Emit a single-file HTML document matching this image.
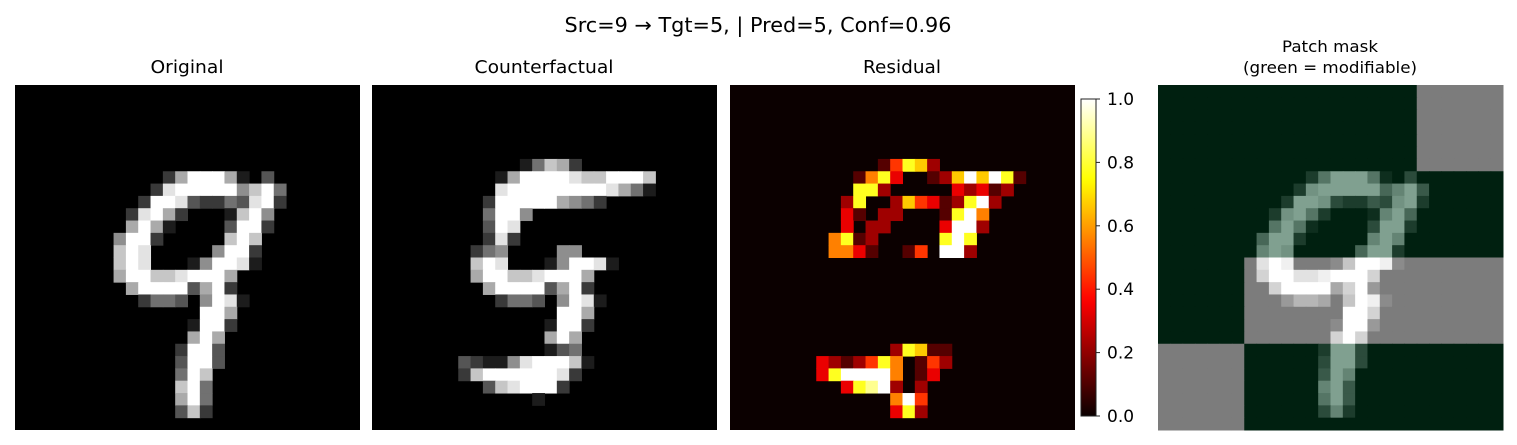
<!DOCTYPE html>
<html><head><meta charset="utf-8">
<style>
html,body{margin:0;padding:0;background:#fff;}
svg{display:block;font-family:"DejaVu Sans","Liberation Sans",sans-serif;}
</style></head>
<body>
<svg id="fig" width="1517" height="445" viewBox="0 0 1517 445" xmlns="http://www.w3.org/2000/svg">
<text x="758" y="32" font-size="20" text-anchor="middle" textLength="387" lengthAdjust="spacingAndGlyphs">Src=9 → Tgt=5, | Pred=5, Conf=0.96</text>
<text x="187" y="73" font-size="18" text-anchor="middle" textLength="73" lengthAdjust="spacingAndGlyphs">Original</text>
<text x="544" y="73" font-size="18" text-anchor="middle" textLength="139" lengthAdjust="spacingAndGlyphs">Counterfactual</text>
<text x="902" y="73" font-size="18" text-anchor="middle" textLength="78" lengthAdjust="spacingAndGlyphs">Residual</text>
<text x="1330" y="52" font-size="16" text-anchor="middle" textLength="96" lengthAdjust="spacingAndGlyphs">Patch mask</text>
<text x="1330" y="73" font-size="16" text-anchor="middle" textLength="174" lengthAdjust="spacingAndGlyphs">(green = modifiable)</text>
<g id="g-orig"></g>
<g id="g-cf"></g>
<g id="g-res"></g>
<g id="g-mask"></g>
<g id="g-cbar"></g>
</svg>
<script>
// Sparse rows: [row, startCol, digits(0-9 => value/9)]
const originalRows = [
[7,12,"2699961030"],[8,10,"028999995794"],[9,10,"299832243892"],[10,9,"289620001795"],
[11,9,"696100003992"],[12,8,"599200000797"],[13,8,"798000005992"],[14,8,"798000159981"],
[15,8,"6997789996"],[16,8,"0699993692"],[17,10,"244305981"],[18,15,"996"],[19,14,"1992"],
[20,14,"696"],[21,13,"2993"],[22,13,"3993"],[23,13,"497"],[24,13,"794"],[25,13,"694"],[26,13,"372"]
];
const counterfactualRows = [
[6,12,"14762"],[7,10,"16999987799970"],[8,9,"08999999998641"],[9,9,"29999965420"],
[10,8,"04995"],[11,9,"3980"],[12,9,"282"],[13,8,"245000055"],[14,8,"798000159981"],
[15,8,"6997789996"],[16,8,"0699993692"],[17,10,"244305981"],[18,15,"996"],[19,14,"1992"],
[20,14,"696"],[21,14,"1340"],[22,7,"32115899971"],[23,7,"2799999982"],[24,9,"3789992"],[25,13,"1"]
];
const residualRows = [
[6,12,"14762"],[7,10,"15730012696971"],[8,9,"07720000032312"],[9,9,"2700264312792"],
[10,8,"0310220001795"],[11,9,"302200003992"],[12,8,"571200000797"],[13,8,"553100140992"],
[21,13,"27611"],[22,7,"32124750142"],[23,7,"3799995013"],[24,9,"3789202"],[25,13,"594"],[26,13,"372"]
];
// 4x4 patch mask: 1 = modifiable (green), 0 = fixed (gray)
const patchMask = [[1,1,1,0],[1,1,1,1],[1,0,0,0],[0,1,1,1]];
const cbarTicks = [0.0,0.2,0.4,0.6,0.8,1.0];
const cbarLabels = ["0.0","0.2","0.4","0.6","0.8","1.0"];

const NS="http://www.w3.org/2000/svg";
const N=28, SIZE=345, Y0=85, CELL=SIZE/N;
function grid(rows){const g=[];for(let r=0;r<N;r++)g.push(new Array(N).fill(0));
  rows.forEach(([r,c,s])=>{for(let i=0;i<s.length;i++)g[r][c+i]=(+s[i])/9;});return g;}
function hot(v){v=Math.max(0,Math.min(1,v));
  const r=Math.min(1,0.0416+(1-0.0416)*v/0.365), g=Math.max(0,Math.min(1,(v-0.365)/0.381)), b=Math.max(0,Math.min(1,(v-0.746)/0.254));
  const f=x=>Math.round(x*255);return `rgb(${f(r)},${f(g)},${f(b)})`;}
function gray(v){const c=Math.round(v*255);return `rgb(${c},${c},${c})`;}
function draw(gid,x0,data,colorFn,name){
  const g=document.getElementById(gid);
  const bg=document.createElementNS(NS,'rect');
  
  
  bg.setAttribute('x',x0);bg.setAttribute('y',Y0);bg.setAttribute('width',SIZE);bg.setAttribute('height',SIZE);
  bg.setAttribute('fill',colorFn(0,0,0));g.appendChild(bg);
  for(let r=0;r<N;r++)for(let c=0;c<N;c++){
    const v=data[r][c];
    const masked=gid==='g-mask';
    if(v===0&&!masked)continue;
    const e=document.createElementNS(NS,'rect');
    
    
    e.setAttribute('x',(x0+c*CELL).toFixed(2));e.setAttribute('y',(Y0+r*CELL).toFixed(2));
    e.setAttribute('width',(CELL+0.5).toFixed(2));e.setAttribute('height',(CELL+0.5).toFixed(2));
    e.setAttribute('fill',colorFn(v,r,c));g.appendChild(e);
  }
}
const orig=grid(originalRows), cf=grid(counterfactualRows), res=grid(residualRows);
draw('g-orig',15,orig,v=>gray(v),'original');
draw('g-cf',372,cf,v=>gray(v),'counterfactual');
draw('g-res',730,res,v=>hot(v),'residual');
draw('g-mask',1158,orig,(v,r,c)=>{
  const m=patchMask[Math.floor(r/7)][Math.floor(c/7)];
  if(m){return `rgb(${Math.round(128*v)},${Math.round(32+128*v)},${Math.round(16+128*v)})`;}
  const k=Math.round(124+131*v);return `rgb(${k},${k},${k})`;
},'patch-mask');

// colorbar
const cb=document.getElementById('g-cbar');
const CBX=1081, CBW=15, CBT=99, CBB=416;
const defs=document.createElementNS(NS,'defs');
const lg=document.createElementNS(NS,'linearGradient');
lg.setAttribute('id','hotgrad');lg.setAttribute('x1','0');lg.setAttribute('y1','1');lg.setAttribute('x2','0');lg.setAttribute('y2','0');
for(let i=0;i<=40;i++){const s=document.createElementNS(NS,'stop');s.setAttribute('offset',i/40);s.setAttribute('stop-color',hot(i/40));lg.appendChild(s);}
defs.appendChild(lg);cb.appendChild(defs);
const bar=document.createElementNS(NS,'rect');


bar.setAttribute('x',CBX);bar.setAttribute('y',CBT);bar.setAttribute('width',CBW);bar.setAttribute('height',CBB-CBT);
bar.setAttribute('fill','url(#hotgrad)');bar.setAttribute('stroke','#222');bar.setAttribute('stroke-width','1');cb.appendChild(bar);
function cy(v){return CBB-v*(CBB-CBT);}
cbarTicks.forEach((t,i)=>{
  const ln=document.createElementNS(NS,'line');
  
  
  ln.setAttribute('x1',CBX+CBW);ln.setAttribute('x2',CBX+CBW+4);ln.setAttribute('y1',cy(t));ln.setAttribute('y2',cy(t));
  ln.setAttribute('stroke','#222');cb.appendChild(ln);
  const tx=document.createElementNS(NS,'text');
  
  
  tx.setAttribute('x',CBX+CBW+11);tx.setAttribute('y',cy(t)+6);tx.setAttribute('font-size','17');
  tx.textContent=cbarLabels[i];cb.appendChild(tx);
});
</script>
</body></html>
